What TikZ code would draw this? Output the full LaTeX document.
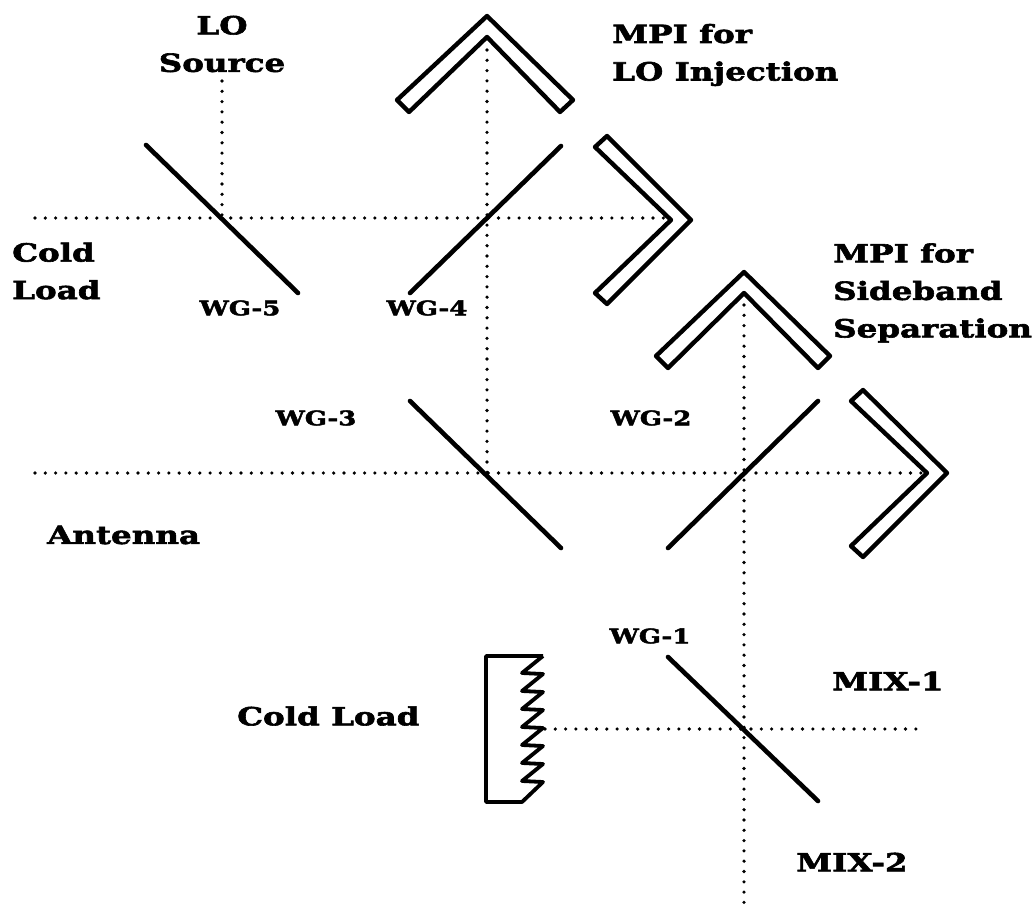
\documentclass[tikz,border=0pt]{standalone}
\usepackage{fontspec}
\setmainfont[BoldFeatures={FakeStretch=1.3,FakeBold=2.4}]{DejaVu Serif}
\usepackage{tikz}
\usetikzlibrary{positioning,calc}

\begin{document}
\begin{tikzpicture}[
    x=1pt, y=-1pt,
    label/.style={font=\fontsize{25}{37.5}\selectfont\bfseries, inner sep=0pt, align=left, anchor=west},
    small/.style={font=\fontsize{20}{24}\selectfont\bfseries, inner sep=0pt, anchor=center},
    mirror/.style={draw, line width=4.4pt, line join=round},
    grid/.style={draw, line width=4.6pt, line cap=round},
    beam/.style={draw, line width=3.6pt, line cap=round, dash pattern=on 0pt off 10.3pt}
]
\useasboundingbox (0,0) rectangle (1033,907);

% Beam end points
\coordinate (losrc) at (222,81);
\coordinate (coldA) at (35,218);
\coordinate (roofB) at (668,218);
\coordinate (roofAin) at (487,50);
\coordinate (antA) at (35,473);
\coordinate (roofD) at (921,473);
\coordinate (wgcross) at (487,473);
\coordinate (cross5) at (222,218);
\coordinate (roofC) at (744,305);
\coordinate (mixB) at (744,905);
\coordinate (loadtip) at (545,729);
\coordinate (mixA) at (922,729);

% Beams
\draw[beam] (losrc) -- (cross5);
\draw[beam] (coldA) -- (roofB);
\draw[beam] (roofAin) -- (wgcross);
\draw[beam] (antA) -- (roofD);
\draw[beam] (roofC) -- (mixB);
\draw[beam] (loadtip) -- (mixA);

% Wire grids
\draw[grid] (146,145) -- (298,293);
\draw[grid] (410,293) -- (561,146);
\draw[grid] (410,401) -- (561,548);
\draw[grid] (668,548) -- (818,401);
\draw[grid] (668,657) -- (818,801);

% Roof mirrors
\draw[mirror] (487,16) -- (397,100) -- (409,112) -- (487,37) -- (560,112) -- (573,100) -- cycle;
\draw[mirror] (691,220) -- (607,136) -- (595,147) -- (671,220) -- (595,293) -- (607,304) -- cycle;
\draw[mirror] (744,272) -- (656,356) -- (668,368) -- (744,293) -- (818,368) -- (830,356) -- cycle;
\draw[mirror] (947,473) -- (863,390) -- (851,401) -- (927,473) -- (851,546) -- (863,557) -- cycle;

% Cold load
\draw[line width=3.8pt, line join=round] (543,656) -- (486,656) -- (486,802) -- (522,802) -- (543,782)
    \foreach \k in {7,...,1} { -- (522,{656+18*\k-1}) -- (543,{656+18*(\k-1)}) };

% Labels
\node[small, font=\fontsize{25}{37.5}\selectfont\bfseries, align=center] (lo) at (222,44) {LO\\Source};
\node[label] (mpilo) at (612,55) {MPI for\\LO Injection};
\node[label] (coldtop) at (12,271) {Cold\\Load};
\node[label] (mpisb) at (833,293) {MPI for\\Sideband\\Separation};
\node[label] (antenna) at (47,535) {Antenna};
\node[label] (mix1) at (832,681) {MIX-1};
\node[label] (coldbot) at (237,716) {Cold Load};
\node[label] (mix2) at (796,862) {MIX-2};
\node[small] (wg5) at (240,308) {WG-5};
\node[small] (wg4) at (427,308) {WG-4};
\node[small] (wg3) at (316,418) {WG-3};
\node[small] (wg2) at (651,418) {WG-2};
\node[small] (wg1) at (650,636) {WG-1};

\end{tikzpicture}
\end{document}
